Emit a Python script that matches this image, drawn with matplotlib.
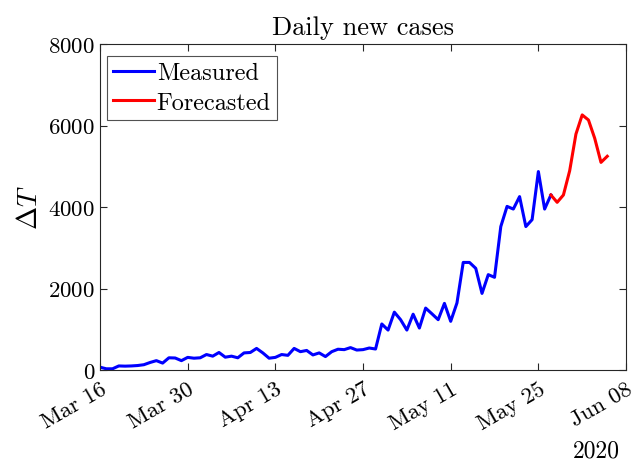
import numpy as np
import matplotlib
matplotlib.use("Agg")
import matplotlib.pyplot as plt
import matplotlib.dates as mdates
from datetime import date, timedelta

plt.rcParams['font.family'] = 'cmr10'
plt.rcParams['mathtext.fontset'] = 'cm'
plt.rcParams['axes.formatter.use_mathtext'] = True

# daily new cases (one value per day from Mar 16)
start_day = date(2020, 3, 16)
measured = [70, 30, 30, 100, 95, 100, 110, 130, 185, 230,
            170, 300, 295, 230, 310, 290, 300, 380, 340, 430,
            315, 340, 300, 420, 430, 530, 420, 290, 310, 380,
            360, 530, 450, 480, 370, 420, 330, 450, 510, 500,
            550, 490, 500, 540, 515, 1130, 980, 1420, 1235, 980,
            1370, 1030, 1520, 1380, 1235, 1635, 1195, 1645, 2640, 2640,
            2495, 1880, 2340, 2275, 3520, 4015, 3950, 4255, 3520, 3690,
            4870, 3950, 4295]
forecast = [4295, 4115, 4295, 4890, 5790, 6260, 6135, 5685, 5095, 5245]

meas_dates = [start_day + timedelta(days=i) for i in range(len(measured))]
fc_start = len(measured) - 1
fc_dates = [start_day + timedelta(days=fc_start + i) for i in range(len(forecast))]

tick_dates = [start_day + timedelta(days=14 * k) for k in range(7)]

fig = plt.figure(figsize=(6.33, 4.64), dpi=100)
ax = fig.add_axes([0.158, 0.2004, 0.831, 0.7026])

ax.plot(meas_dates, measured, color='#0000ff', lw=2.2, label='Measured')
ax.plot(fc_dates, forecast, color='#ff0000', lw=2.2, label='Forecasted')

ax.set_xlim(tick_dates[0], tick_dates[-1])
ax.set_ylim(0, 8000)
ax.set_yticks([0, 2000, 4000, 6000, 8000])
ax.set_xticks(tick_dates)
ax.xaxis.set_major_formatter(mdates.DateFormatter('%b %d'))

for lab in ax.get_xticklabels():
    lab.set_rotation(30)
    lab.set_ha('right')
    lab.set_rotation_mode('anchor')

axis_col = '#262626'
for sp in ax.spines.values():
    sp.set_color(axis_col)
    sp.set_linewidth(0.8)
ax.tick_params(direction='in', top=True, right=True, length=5, width=0.8,
               colors=axis_col, labelcolor='black', labelsize=16.5)
ax.tick_params(axis='x', pad=6)

ax.set_title('Daily new cases', fontsize=19, pad=7)
ax.set_ylabel(r'$\Delta T$', fontsize=20, labelpad=4)

fig.text(0.98, 0.003, '2020', fontsize=17, ha='right', va='bottom')

leg = ax.legend(loc='upper left', bbox_to_anchor=(-0.01, 1.0),
                fontsize=17.5, frameon=True, fancybox=False,
                handlelength=1.7, handletextpad=0.1, borderpad=0.25,
                labelspacing=0.3, borderaxespad=0.5)
leg.get_frame().set_edgecolor(axis_col)
leg.get_frame().set_linewidth(0.8)

fig.savefig('out.png', dpi=100)
